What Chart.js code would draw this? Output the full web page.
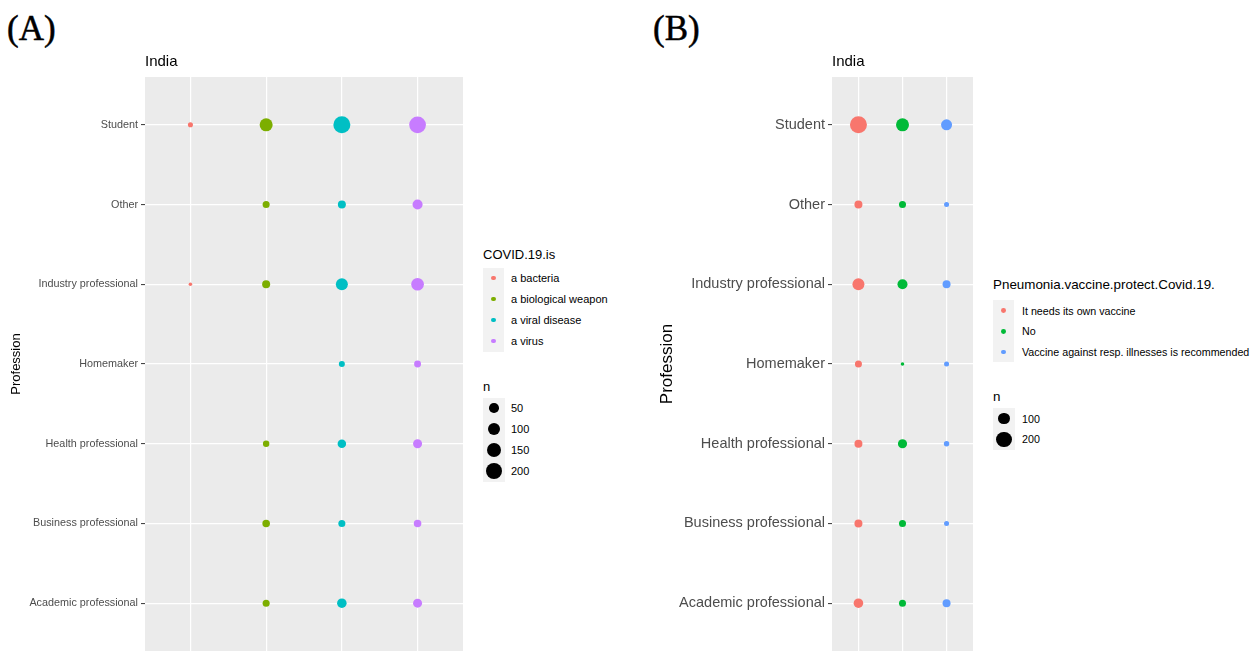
<!DOCTYPE html>
<html><head><meta charset="utf-8">
<script src="https://cdn.jsdelivr.net/npm/chart.js@4.4.0/dist/chart.umd.min.js"></script>
<style>
body{margin:0;background:#fff;}
#wrap{position:relative;width:1260px;height:651px;overflow:hidden;font-family:"Liberation Sans",Arial,sans-serif;background:#fff;}
.panel{position:absolute;font-family:"Liberation Serif","DejaVu Serif",serif;font-size:35px;color:#000;line-height:1;-webkit-text-stroke:0.5px #000;}
canvas{position:absolute;top:0;}
.lg{position:absolute;color:#000;white-space:nowrap;line-height:1;transform:translateY(-50%);}
.key{position:absolute;background:#F2F2F2;}
.dot{position:absolute;border-radius:50%;}
</style></head>
<body><div id="wrap">
<div class="panel" style="left:7px;top:11px">(A)</div>
<div class="panel" style="left:653px;top:11px">(B)</div>
<canvas id="cA" width="465" height="651" style="left:0"></canvas>
<canvas id="cB" width="320" height="651" style="left:655px"></canvas>
</div>
<script>
// ---------- data ----------
const professions = ["Student","Other","Industry professional","Homemaker","Health professional","Business professional","Academic professional"];

const covidCategories = ["a bacteria","a biological weapon","a viral disease","a virus"];
const covidColors = ["#F8766D","#7CAE00","#00BFC4","#C77CFF"];
const nBacteria         = [4,   null, 1,   null, null, null, null];
const nBiologicalWeapon = [120, 17,   27,  null, 12,   22,   17];
const nViralDisease     = [240, 27,   95,  9,    33,   17,   48];
const nVirus            = [232, 56,   110, 16,   40,   22,   40];
const sizeBreaksA = [50, 100, 150, 200];

const vaccineCategories = ["It needs its own vaccine","No","Vaccine against resp. illnesses is recommended"];
const vaccineColors = ["#F8766D","#00BA38","#619CFF"];
const nOwnVaccine   = [265, 33, 107, 22, 33, 33, 56];
const nNo           = [133, 22, 65,  5,  50, 22, 22];
const nRecommended  = [85,  8,  33,  8,  10, 8,  33];
const sizeBreaksB = [100, 200];

// ---------- helpers ----------
const FONT = '"Liberation Sans", Arial, sans-serif';
function sizeScale(series){
  const v = series.flat().filter(x => x != null);
  const lo = Math.min(...v), hi = Math.max(...v);
  return n => (3.57 + 13.43 * Math.sqrt(Math.max(0, (n - lo) / (hi - lo)))) / 2;
}
const bgPlugin = {id:'panelBg', beforeDraw(c){
  const {ctx, chartArea:a} = c;
  ctx.save(); ctx.fillStyle = '#EBEBEB';
  ctx.fillRect(a.left, a.top, a.right - a.left, a.bottom - a.top);
  ctx.restore();
}};

function makeChart(id, names, colors, series, o){
  const rad = sizeScale(series);
  const datasets = series.map((vals, si) => ({
    label: names[si],
    data: vals.map((n, pi) => n == null ? null : {x: si, y: pi, n: n}).filter(Boolean),
    backgroundColor: colors[si],
    borderWidth: 0,
    pointRadius: c => rad(c.raw.n),
    pointHoverRadius: c => rad(c.raw.n)
  }));
  new Chart(document.getElementById(id), {
    type: 'scatter',
    data: {datasets},
    options: {
      responsive: false, animation: false, events: [],
      layout: {autoPadding: false, padding: {top: 53, right: 2, bottom: 0, left: 0}},
      plugins: {
        legend: {display: false}, tooltip: {enabled: false},
        title: {display: true, text: 'India', align: 'start', fullSize: false,
          font: {family: FONT, size: 15, weight: 'normal'}, color: '#000',
          padding: {top: 0, bottom: 6}}
      },
      scales: {
        x: {type: 'linear', bounds: 'data', min: -0.6, max: names.length - 0.4,
          afterBuildTicks: s => { s.ticks = names.map((_, i) => ({value: i})); },
          ticks: {display: false},
          grid: {color: '#FFFFFF', lineWidth: 1.2, drawTicks: false},
          border: {display: false},
          afterFit: s => { s.height = 0; s.paddingLeft = 0; s.paddingRight = 0; }
        },
        y: {type: 'linear', bounds: 'data', reverse: true, min: -0.6, max: professions.length - 0.4,
          afterBuildTicks: s => { s.ticks = professions.map((_, i) => ({value: i})); },
          ticks: {callback: v => professions[v], autoSkip: false, padding: 3,
            font: {family: FONT, size: o.tickSize}, color: '#4D4D4D'},
          grid: {color: '#FFFFFF', lineWidth: 1.2, tickColor: '#333333', tickLength: 4, tickWidth: 1},
          border: {display: false},
          title: {display: true, text: 'Profession', color: '#000',
            font: {family: FONT, size: o.axisTitleSize}, padding: {top: o.axisTitlePad, bottom: 0}},
          afterFit: s => { s.width = o.axisWidth; s.paddingTop = 0; s.paddingBottom = 0; }
        }
      }
    },
    plugins: [bgPlugin]
  });
  return rad;
}

function addText(x, y, txt, size){
  const d = document.createElement('div');
  d.className = 'lg'; d.textContent = txt;
  d.style.left = x + 'px'; d.style.top = y + 'px'; d.style.fontSize = size + 'px';
  document.getElementById('wrap').appendChild(d);
}
function addBox(x, y, w, h){
  const d = document.createElement('div'); d.className = 'key';
  Object.assign(d.style, {left: x + 'px', top: y + 'px', width: w + 'px', height: h + 'px'});
  document.getElementById('wrap').appendChild(d);
}
function addDot(cx, cy, r, col){
  const d = document.createElement('div'); d.className = 'dot';
  Object.assign(d.style, {left: (cx - r) + 'px', top: (cy - r) + 'px', width: 2*r + 'px', height: 2*r + 'px', background: col});
  document.getElementById('wrap').appendChild(d);
}
function legend(L){
  addText(L.x, L.titleY, L.title, L.titleSize);
  addBox(L.x, L.itemY0 - L.step/2, L.keyW, L.step * L.names.length);
  L.names.forEach((nm, i) => {
    const cy = L.itemY0 + i * L.step;
    addDot(L.x + L.keyW/2, cy, 2.4, L.colors[i]);
    addText(L.textX, cy, nm, L.textSize);
  });
  addText(L.x, L.nY, 'n', L.titleSize);
  addBox(L.x, L.sizeY0 - L.step/2, L.sizeKeyW, L.step * L.breaks.length);
  L.breaks.forEach((b, i) => {
    const cy = L.sizeY0 + i * L.step;
    addDot(L.x + L.sizeKeyW/2, cy, L.rad(b), '#000');
    addText(L.textX, cy, String(b), L.textSize);
  });
}

const radA = makeChart('cA', covidCategories, covidColors,
  [nBacteria, nBiologicalWeapon, nViralDisease, nVirus],
  {tickSize: 10.8, axisTitleSize: 13, axisTitlePad: 9, axisWidth: 145});
const radB = makeChart('cB', vaccineCategories, vaccineColors,
  [nOwnVaccine, nNo, nRecommended],
  {tickSize: 14.5, axisTitleSize: 17, axisTitlePad: 2, axisWidth: 177});

legend({x: 483, title: 'COVID.19.is', titleY: 254, titleSize: 13, names: covidCategories, colors: covidColors,
  itemY0: 278, step: 21, keyW: 21, textX: 511, textSize: 11,
  nY: 386, sizeY0: 408, sizeKeyW: 22, breaks: sizeBreaksA, rad: radA});
legend({x: 993, title: 'Pneumonia.vaccine.protect.Covid.19.', titleY: 285, titleSize: 13.4, names: vaccineCategories, colors: vaccineColors,
  itemY0: 310.5, step: 20.7, keyW: 21, textX: 1022, textSize: 10.7,
  nY: 397, sizeY0: 418.5, sizeKeyW: 22, breaks: sizeBreaksB, rad: radB});
</script>
</body></html>
